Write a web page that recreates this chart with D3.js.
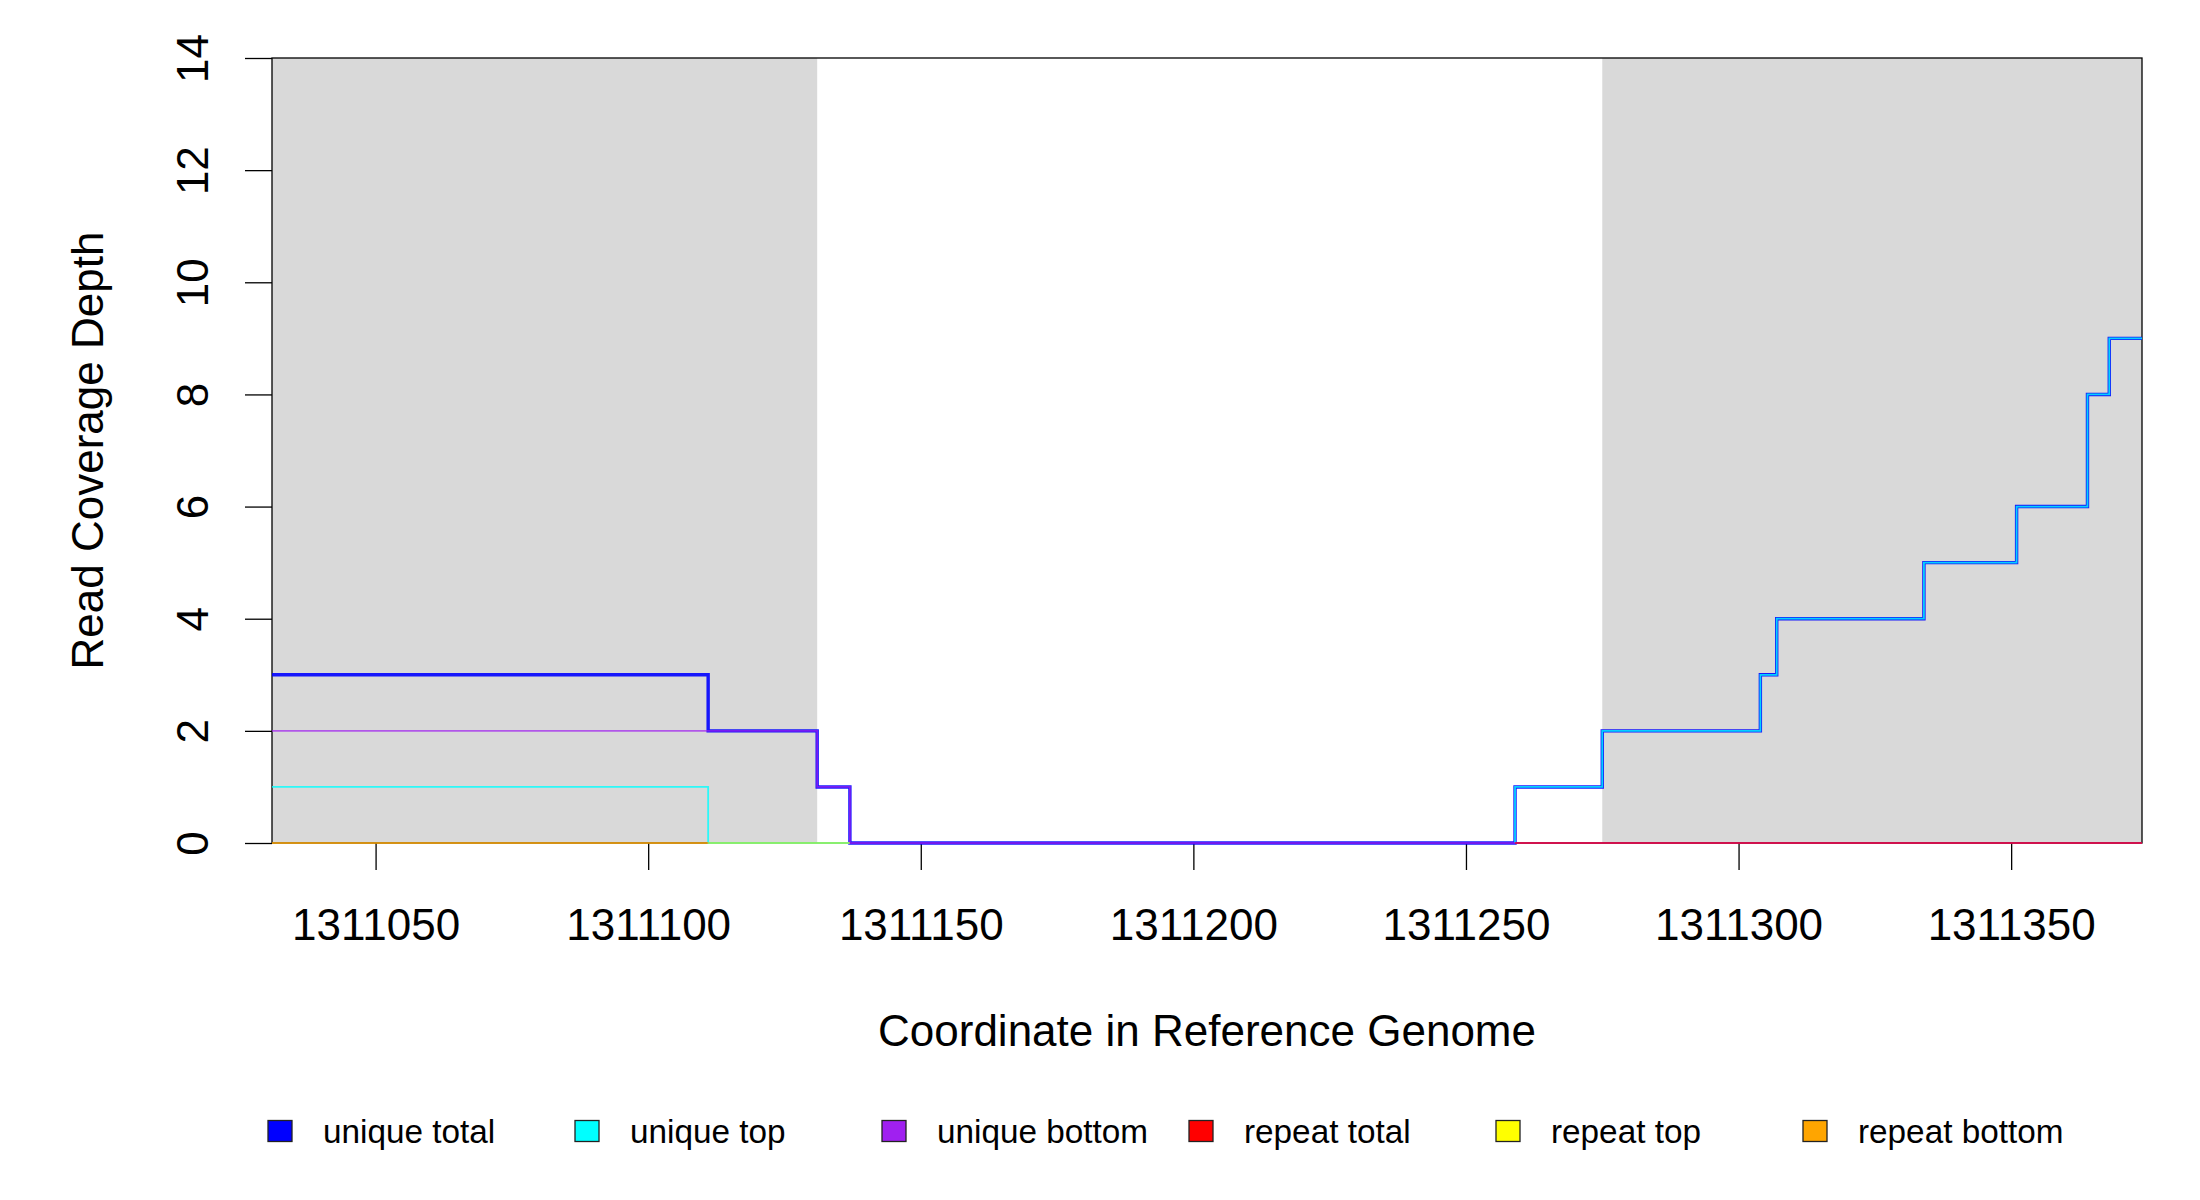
<!DOCTYPE html>
<html>
<head>
<meta charset="utf-8">
<script src="https://cdn.jsdelivr.net/npm/d3@7"></script>
<style>
  body { margin: 0; background: #fff; }
  svg text { font-family: "Liberation Sans", Arial, sans-serif; fill: #000; }
</style>
</head>
<body>
<div id="chart"></div>
<script>
// coverage steps: [coordinate, depth], depth holds until the next coordinate (null = gap)
const uniqueTotal = [[1311031,3],[1311111,2],[1311131,1],[1311137,0],[1311259,1],[1311275,2],[1311304,3],[1311307,4],[1311334,5],[1311351,6],[1311364,8],[1311368,9],[1311374,9]]
const uniqueTop = [[1311031,1],[1311111,0],[1311137,0],[1311137,null],[1311259,0],[1311259,1],[1311275,2],[1311304,3],[1311307,4],[1311334,5],[1311351,6],[1311364,8],[1311368,9],[1311374,9]]
const uniqueBottom = [[1311031,2],[1311131,1],[1311137,0],[1311374,0]]
const repeatTotal = [[1311259,0],[1311374,0]]
const repeatTop = [[1311111,0],[1311137,0]]
const repeatBottom = [[1311031,0],[1311111,0]]

const seriesNames = ['unique total','unique top','unique bottom','repeat total','repeat top','repeat bottom']
const seriesColors = ['#0000ff','#00ffff','#a020f0','#ff0000','#ffff00','#ffa500']
const seriesData = [uniqueTotal, uniqueTop, uniqueBottom, repeatTotal, repeatTop, repeatBottom]

const shadedRegions = [[1311031,1311131],[1311275,1311374]]
const xDomain = [1311031, 1311374]
const yDomain = [0, 14]
const xTicks = [1311050,1311100,1311150,1311200,1311250,1311300,1311350]
const yTicks = [0,2,4,6,8,10,12,14]

const width = 2200, height = 1200
const plot = {left: 272, right: 2142, top: 58, bottom: 843}

const x = d3.scaleLinear().domain(xDomain).range([plot.left, plot.right])
const y = d3.scaleLinear().domain(yDomain).range([plot.bottom, plot.top])

const svg = d3.select('#chart').append('svg')
    .attr('width', width)
    .attr('height', height)

svg.append('rect').attr('width', width).attr('height', height).attr('fill', '#fff')

// grey read regions
svg.selectAll('rect.region')
  .data(shadedRegions)
  .join('rect')
    .attr('class', 'region')
    .attr('x', d => x(d[0]))
    .attr('y', plot.top)
    .attr('width', d => x(d[1]) - x(d[0]))
    .attr('height', plot.bottom - plot.top)
    .attr('fill', '#d9d9d9')

// plot box
svg.append('rect')
    .attr('x', plot.left)
    .attr('y', plot.top)
    .attr('width', plot.right - plot.left)
    .attr('height', plot.bottom - plot.top)
    .attr('fill', 'none')
    .attr('stroke', '#000')
    .attr('stroke-width', 1.3)

// axes
const xAxis = svg.append('g')
    .attr('transform', `translate(0,${plot.bottom})`)
    .call(d3.axisBottom(x).tickValues(xTicks).tickFormat(d3.format('d')).tickSize(27).tickSizeOuter(0))
xAxis.select('.domain').remove()
xAxis.selectAll('.tick line').attr('stroke-width', 1.3)
xAxis.selectAll('.tick text')
    .attr('y', 81)
    .attr('dy', 0)
    .attr('dominant-baseline', 'central')
    .attr('font-size', 44)

const yAxis = svg.append('g')
    .attr('transform', `translate(${plot.left},0)`)
    .call(d3.axisLeft(y).tickValues(yTicks).tickSize(27).tickSizeOuter(0))
yAxis.select('.domain').remove()
yAxis.selectAll('.tick line').attr('stroke-width', 1.3)
yAxis.selectAll('.tick text')
    .attr('transform', 'rotate(-90)')
    .attr('x', 0)
    .attr('y', -80)
    .attr('dy', 0)
    .attr('text-anchor', 'middle')
    .attr('dominant-baseline', 'central')
    .attr('font-size', 44)

// axis titles
svg.append('text')
    .attr('x', (plot.left + plot.right) / 2)
    .attr('y', 1030)
    .attr('text-anchor', 'middle')
    .attr('dominant-baseline', 'central')
    .attr('font-size', 44)
    .text('Coordinate in Reference Genome')

svg.append('text')
    .attr('transform', `translate(87,${(plot.top + plot.bottom) / 2}) rotate(-90)`)
    .attr('text-anchor', 'middle')
    .attr('dominant-baseline', 'central')
    .attr('font-size', 44)
    .text('Read Coverage Depth')

// step lines
const line = d3.line()
    .defined(d => d[1] != null)
    .x(d => x(d[0]))
    .y(d => y(d[1]))
    .curve(d3.curveStepAfter)

const widths = [3.4, 1.8, 1.8, 1.8, 1.8, 1.8]
const alphas = [0.9, 0.8, 0.7, 0.6, 0.5, 0.75]

svg.append('g')
  .selectAll('path')
  .data(seriesData)
  .join('path')
    .attr('d', d => line(d))
    .attr('fill', 'none')
    .attr('stroke', (d, i) => seriesColors[i])
    .attr('stroke-width', (d, i) => widths[i])
    .attr('stroke-opacity', (d, i) => alphas[i])
    .attr('stroke-linejoin', 'miter')

// legend
const legendX = d3.scaleLinear().domain([0, seriesNames.length - 1]).range([280, 1815])
const legend = svg.append('g')
  .selectAll('g')
  .data(seriesNames)
  .join('g')
    .attr('transform', (d, i) => `translate(${legendX(i)},1131)`)

legend.append('rect')
    .attr('x', -12)
    .attr('y', -10.5)
    .attr('width', 24)
    .attr('height', 21)
    .attr('fill', (d, i) => seriesColors[i])
    .attr('stroke', '#222')
    .attr('stroke-width', 1.3)

legend.append('text')
    .attr('x', 43)
    .attr('dominant-baseline', 'central')
    .attr('font-size', 33.3)
    .text(d => d)
</script>
</body>
</html>
